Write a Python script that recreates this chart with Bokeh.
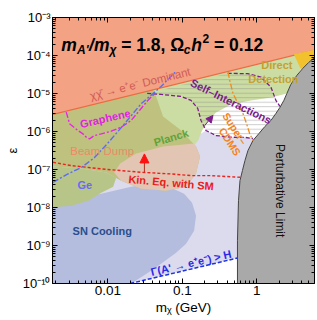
import numpy as np
from bokeh.plotting import figure
from bokeh.models import (Range1d, FixedTicker, CustomJSTickFormatter, LogAxis,
                          Arrow, NormalHead)
from bokeh.core.properties import value
from bokeh.embed import file_html
from bokeh.resources import INLINE

FONT = "Liberation Sans"

# ---------------- data: log10(m_chi / GeV) and log10(epsilon) ----------------
x_log_range = [-2.745, 0.778]
y_log_range = [-10.0, -3.0]
x_major = [0.01, 0.1, 1.0]
y_major = [1e-10, 1e-9, 1e-8, 1e-7, 1e-6, 1e-5, 1e-4, 1e-3]

# chi chibar -> e+e- dominant boundary
dom_lm = [-2.74, 0.78]
dom_le = [-5.55, -3.86]

# perturbative limit edge (bottom to top)
pert_lm = [-0.258, -0.258, -0.244, -0.224, -0.191, -0.157, -0.117, -0.050, 0.031, 0.111,
           0.192, 0.259, 0.313, 0.366, 0.407, 0.460, 0.541, 0.621, 0.702, 0.783, 0.85]
pert_le = [-10.0, -8.876, -7.821, -7.293, -7.029, -6.765, -6.501, -6.237, -6.053, -5.868,
           -5.710, -5.525, -5.367, -5.182, -4.997, -4.760, -4.523, -4.338, -4.179, -4.048, -3.95]

# Planck region boundary (top right, down and to the left)
planck_lm = [0.595, 0.541, 0.460, 0.407, 0.192, -0.077, -0.345, -0.546, -0.654, -0.734,
             -0.786, -0.855, -1.419, -2.738]
planck_le = [-4.364, -4.523, -4.760, -4.997, -5.103, -5.182, -5.288, -5.499, -5.736, -5.974,
             -6.237, -6.396, -6.501, -6.765]

# Beam dump region boundary (overlap with Planck is olive)
bd_lm = [-1.419, -1.352, -1.258, -1.030, -0.815, -0.761, -0.815, -0.949, -1.217, -1.553,
         -1.822, -2.023, -2.359, -2.738]
bd_le = [-4.786, -5.077, -5.604, -5.947, -6.396, -6.660, -7.108, -7.451, -7.557, -7.504,
         -7.293, -7.082, -6.976, -6.923]

# Beam-dump-only lobe (below Planck)
bdo_lm = [-0.842, -1.258, -1.620, -1.835, -1.915, -1.822, -1.553, -1.217, -0.949, -0.815,
          -0.761, -0.815]
bdo_le = [-6.319, -6.396, -6.581, -6.845, -7.082, -7.293, -7.504, -7.557, -7.451, -7.108,
          -6.660, -6.396]

# Planck-only strip at lower left (below beam dump)
plo_lm = [-2.738, -2.359, -2.023, -1.889, -1.929, -2.090, -2.264, -2.493, -2.738]
plo_le = [-6.923, -6.976, -7.082, -7.214, -7.451, -7.609, -7.821, -7.953, -7.993]

# SN cooling boundary
sn_lm = [-2.090, -1.687, -1.419, -1.150, -0.976, -0.868, -0.815, -0.841, -0.949, -1.083,
         -1.285, -1.486, -1.687]
sn_le = [-7.636, -7.451, -7.372, -7.478, -7.636, -7.873, -8.216, -8.612, -8.955, -9.193,
         -9.483, -9.747, -10.0]

# Direct detection (gold) corner
gold_lm = [0.50, 0.95, 0.95, 0.783, 0.702, 0.621, 0.595]
gold_le = [-3.97, -3.77, -3.95, -4.048, -4.179, -4.338, -4.364]

# Gamma(A' -> e+e-) > H
gamma_lm = [-1.70, -0.26]
gamma_le = [-10.0, -9.33]

# Self-interaction contour (lower and upper pieces)
si_lower_lm = [-1.472, -1.285, -1.016, -0.882, -0.792, -0.748, -0.681, -0.546, -0.345, -0.144, -0.050]
si_lower_le = [-4.997, -5.024, -5.077, -5.182, -5.393, -5.710, -5.974, -6.106, -6.150, -6.158, -6.184]
si_upper_lm = [-0.389, -0.121, 0.058, 0.192, 0.259, 0.313]
si_upper_le = [-4.470, -4.478, -4.567, -4.831, -5.182, -5.340]

# Graphene
gr_lm = [-2.560, -2.515, -2.403, -2.336, -2.291, -2.247, -2.180, -2.090, -1.956, -1.822,
         -1.687, -1.553, -1.463, -1.374]
gr_le = [-5.49, -5.797, -5.974, -6.061, -6.150, -6.193, -6.106, -6.061, -5.992, -5.887,
         -5.710, -5.393, -5.182, -5.005]

# Ge
ge_lm = [-2.738, -2.537, -2.359, -2.180, -2.0, -1.777, -1.553, -1.374, -1.285, -1.177, -1.097]
ge_le = [-7.338, -7.116, -6.950, -6.686, -6.303, -5.797, -5.269, -4.971, -4.813, -4.602, -4.443]

# Kinetic equilibrium with SM
kin_lm = [-2.738, -2.493, -2.090, -1.553, -1.150, -0.882, -0.613, -0.211]
kin_le = [-6.810, -6.897, -6.984, -7.074, -7.116, -7.161, -7.161, -7.206]

# SuperCDMS
scdms_lm = [-0.385, -0.362, -0.318, -0.251, -0.184, -0.137, -0.094, -0.050]
scdms_le = [-4.435, -4.654, -4.997, -5.261, -5.525, -5.789, -6.053, -6.237]

# arrows (log m, log eps start -> end)
kin_arrow = [-1.509, -7.07, -1.509, -6.59]
si_arrow = [-0.698, -5.842, -0.587, -5.578]

# ---------------- helpers ----------------
def P(a):
    return 10.0 ** np.asarray(a, dtype=float)

pad_l, pad_r, pad_t, pad_b = -3.0, 0.95, -2.8, -10.6
slope = (dom_le[1] - dom_le[0]) / (dom_lm[1] - dom_lm[0])
def dom_at(lm):
    return dom_le[0] + slope * (lm - dom_lm[0])

PX_PER_DEC_Y = 265 / 7.0

p = figure(width=317, height=320, x_axis_type="log", y_axis_type="log",
           x_range=Range1d(10 ** x_log_range[0], 10 ** x_log_range[1]),
           y_range=Range1d(10 ** y_log_range[0], 10 ** y_log_range[1]),
           output_backend="svg", toolbar_location=None,
           min_border_left=52, min_border_right=3, min_border_top=17, min_border_bottom=37)
p.xgrid.visible = False
p.ygrid.visible = False
p.background_fill_color = "white"
p.border_fill_color = "white"
p.outline_line_color = "black"
p.outline_line_width = 1

pe_lm = np.array(pert_lm)
pe_le = np.array(pert_le)

# lavender region
m = (pe_le > gamma_le[-1] + 0.01) & (pe_le < si_lower_le[-1])
lav_x = [pad_l, gamma_lm[0]] + gamma_lm + list(pe_lm[m]) + si_lower_lm[6:][::-1] + [-0.75, pad_l]
lav_y = [pad_b, pad_b] + gamma_le + list(pe_le[m]) + si_lower_le[6:][::-1] + [-6.06, -6.06]
p.patch(P(lav_x), P(lav_y), fill_color="#DCDAED", line_color=None)

# SN cooling
sn_x = [pad_l] + sn_lm + [-1.75, pad_l]
sn_y = [-7.95] + sn_le + [pad_b, pad_b]
p.patch(P(sn_x), P(sn_y), fill_color="#B4BDDD", line_color=None)

# Planck (+ direct detection), light green
pl_x = [pad_l, 0.541] + planck_lm + [pad_l]
pl_y = [pad_t, pad_t] + planck_le + [planck_le[-1]]
p.patch(P(pl_x), P(pl_y), fill_color="#CBDDA2", line_color=None)

# Beam dump overlapping Planck (olive)
bd_x = [pad_l, bd_lm[0]] + bd_lm + [pad_l]
bd_y = [pad_t, pad_t] + bd_le + [bd_le[-1]]
p.patch(P(bd_x), P(bd_y), fill_color="#BFC17E", line_color=None)

# Beam dump only lobe (pink tan)
p.patch(P(bdo_lm), P(bdo_le), fill_color="#E3C5B3", line_color=None)

# Planck only strip at lower left
p.patch(P(plo_lm), P(plo_le), fill_color="#B7C588", line_color=None)

# Self-interaction hatch
mh = (pe_le > si_lower_le[-1]) & (pe_le < si_upper_le[-1])
h_x = si_lower_lm + list(pe_lm[mh]) + si_upper_lm[::-1]
h_y = si_lower_le + list(pe_le[mh]) + si_upper_le[::-1]
p.patch(P(h_x), P(h_y), fill_color=None, line_color=None, hatch_pattern="-",
        hatch_color="#8c8c8c", hatch_alpha=0.75, hatch_scale=4.5, hatch_weight=0.6)

# salmon region
sal_x = [pad_l, pad_r, pad_r, pad_l]
sal_y = [dom_at(pad_l), dom_at(pad_r), pad_t, pad_t]
p.patch(P(sal_x), P(sal_y), fill_color="#F3A284", line_color=None)
p.line(P([pad_l, pad_r]), P([dom_at(pad_l), dom_at(pad_r)]), line_color="#EE6A42", line_width=1.3)

# gold corner
p.patch(P(gold_lm), P(gold_le), fill_color="#F2C12E", line_color=None)

# perturbative limit
g_x = pert_lm + [pad_r, pad_r, pert_lm[0]]
g_y = pert_le + [pert_le[-1], pad_b, pad_b]
p.patch(P(g_x), P(g_y), fill_color="#A9A9A9", line_color=None)
p.line(P(pert_lm), P(pert_le), line_color="#444444", line_width=1)

# curves
p.line(P(si_lower_lm), P(si_lower_le), line_color="#7E1E8C", line_width=1.3, line_dash="4 2")
p.line(P(si_upper_lm), P(si_upper_le), line_color="#7E1E8C", line_width=1.3, line_dash="4 2")
p.line(P(scdms_lm), P(scdms_le), line_color="#F28C1E", line_width=1.3, line_dash="6 2 2 2")
p.line(P(gr_lm), P(gr_le), line_color="#E626E6", line_width=1.4, line_dash="6 2 2 2")
p.line(P(ge_lm), P(ge_le), line_color="#5B6CF0", line_width=1.4, line_dash="6 2 2 2")
p.line(P(kin_lm), P(kin_le), line_color="#E8241E", line_width=1.4, line_dash="3 2")
p.line(P(gamma_lm), P(gamma_le), line_color="#1E32E6", line_width=1.5, line_dash="4 2")

# arrows
p.add_layout(Arrow(end=NormalHead(size=9, fill_color="#FF1010", line_color="#FF1010"),
                   x_start=10 ** kin_arrow[0], y_start=10 ** kin_arrow[1],
                   x_end=10 ** kin_arrow[2], y_end=10 ** kin_arrow[3],
                   line_color="#B0301E", line_width=1))
p.add_layout(Arrow(end=NormalHead(size=7, fill_color="#7E1E8C", line_color="#7E1E8C"),
                   x_start=10 ** si_arrow[0], y_start=10 ** si_arrow[1],
                   x_end=10 ** si_arrow[2], y_end=10 ** si_arrow[3],
                   line_color="#7E1E8C", line_width=1))

# region labels: (text, log m, log eps, angle, color, size, style)
labels = [
    ("\u03c7\u03c7\u0304 \u2192 e\u207ae\u207b Dominant", -1.566, -4.74, 13.9, "#CF5B55", "11.5px", "normal"),
    ("Graphene", -2.036, -5.657, 13, "#E024E0", "11px", "bold"),
    ("Beam Dump", -2.076, -6.501, 0, "#F08866", "11.5px", "normal"),
    ("Planck", -1.150, -6.158, 17, "#5FA33A", "11px", "bold"),
    ("Ge", -2.311, -7.398, 0, "#6A6AF2", "11px", "bold"),
    ("Kin. Eq. with SM", -1.150, -7.346, -5, "#E8201C", "11px", "bold"),
    ("SN Cooling", -2.076, -8.612, 0, "#2B4E8E", "11px", "bold"),
    ("\u0393(A' \u2192 e\u207ae\u207b) > H", -0.882, -9.457, 13, "#2A2AE6", "11px", "bold"),
    ("Self\u2013Interactions", -0.345, -5.208, -26, "#7B1B8C", "11px", "bold"),
    ("Super\u2013", -0.291, -5.921, -57, "#F58220", "10.5px", "bold"),
    ("CDMS", -0.358, -6.264, -57, "#F58220", "10.5px", "bold"),
    ("Direct", 0.272, -4.259, 0, "#C5A032", "11px", "bold"),
    ("Detection", 0.225, -4.628, 0, "#C5A032", "11px", "bold"),
    ("Perturbative Limit", 0.313, -7.557, -90, "#111111", "12px", "normal"),
]
for t, lx, ly, ang, col, sz, st in labels:
    p.text(x=[10 ** lx], y=[10 ** ly], text=[t], angle=ang, angle_units="deg",
           text_color=col, text_font=value(FONT), text_font_size=sz, text_font_style=st,
           text_align="center", text_baseline="middle")

# title (pieces with sub/superscripts)
NB = "\u00a0"
t_lx, t_ly = -2.627, -3.731
sub_ly = t_ly - 4.5 / PX_PER_DEC_Y
sup_ly = t_ly + 7.0 / PX_PER_DEC_Y
title_pieces = [
    ("m", 0.0, t_ly, "17.5px", "bold italic"),
    ("A'", 15.8, sub_ly, "12px", "bold italic"),
    ("/m", 27.8, t_ly, "17.5px", "bold italic"),
    ("\u03c7", 48.2, sub_ly, "12px", "bold italic"),
    (NB + "= 1.8, \u03a9", 55.0, t_ly, "17.5px", "bold"),
    ("c", 122.5, sub_ly, "12px", "bold italic"),
    ("h", 130.0, t_ly, "17.5px", "bold italic"),
    ("2", 141.2, sup_ly, "12px", "bold"),
    (NB + "= 0.12", 147.9, t_ly, "17.5px", "bold"),
]
for t, dx, ly, sz, st in title_pieces:
    p.text(x=[10 ** t_lx], y=[10 ** ly], text=[t], x_offset=dx, text_color="black",
           text_font=value(FONT), text_font_size=sz, text_font_style=st,
           text_align="left", text_baseline="alphabetic")

# ticks
x_minor = [k * 10.0 ** e for e in (-3, -2, -1, 0) for k in range(2, 10)
           if 10 ** x_log_range[0] < k * 10.0 ** e < 10 ** x_log_range[1]]
y_minor = [k * 10.0 ** e for e in range(-10, -3) for k in range(2, 10)]

sup_code = """
const e = Math.round(Math.log10(tick));
const m = {'-':'\u207b','0':'\u2070','1':'\u00b9','2':'\u00b2','3':'\u00b3','4':'\u2074',
           '5':'\u2075','6':'\u2076','7':'\u2077','8':'\u2078','9':'\u2079'};
let s = '';
for (const c of String(e)) { s += m[c]; }
return '10' + s;
"""
p.xaxis.ticker = FixedTicker(ticks=x_major, minor_ticks=x_minor)
p.yaxis.ticker = FixedTicker(ticks=y_major, minor_ticks=y_minor)
p.xaxis.formatter = CustomJSTickFormatter(code="return tick < 1 ? String(tick) : tick.toFixed(0);")
p.yaxis.formatter = CustomJSTickFormatter(code=sup_code)

for ax, fs in ((p.xaxis[0], "13.5px"), (p.yaxis[0], "13px")):
    ax.major_tick_in = 5
    ax.major_tick_out = 0
    ax.minor_tick_in = 3
    ax.minor_tick_out = 0
    ax.major_label_text_font = FONT
    ax.major_label_text_font_size = fs
    ax.major_label_text_color = "black"
    ax.major_label_standoff = 2
    ax.axis_line_color = "black"
    ax.major_tick_line_color = "black"
    ax.minor_tick_line_color = "black"
    ax.axis_label_text_font = FONT
    ax.axis_label_text_font_style = "normal"
    ax.axis_label_text_color = "black"

p.xaxis.axis_label = "m\u1d6a (GeV)"
p.xaxis.axis_label_text_font_size = "13.5px"
p.xaxis.axis_label_standoff = 2
p.yaxis.axis_label = "\u03b5"
p.yaxis.axis_label_text_font_size = "13px"
p.yaxis.axis_label_standoff = 0

top = LogAxis(ticker=FixedTicker(ticks=x_major, minor_ticks=x_minor),
              formatter=CustomJSTickFormatter(code="return '';"),
              major_tick_in=5, major_tick_out=0, minor_tick_in=3, minor_tick_out=0,
              major_label_standoff=0, major_label_text_font_size="1px")
right = LogAxis(ticker=FixedTicker(ticks=y_major, minor_ticks=y_minor),
                formatter=CustomJSTickFormatter(code="return '';"),
                major_tick_in=5, major_tick_out=0, minor_tick_in=3, minor_tick_out=0,
                major_label_standoff=0, major_label_text_font_size="1px")
p.add_layout(top, "above")
p.add_layout(right, "right")

open("out.html", "w").write(file_html(p, INLINE))
